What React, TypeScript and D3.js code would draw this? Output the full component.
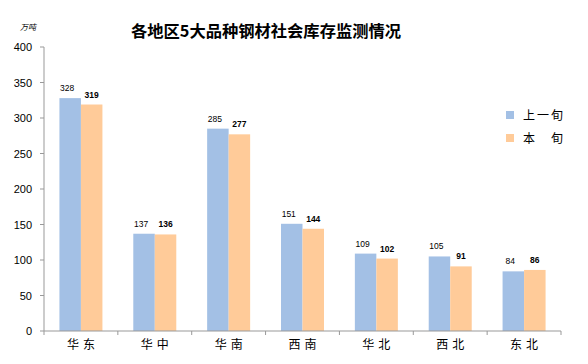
import React from "react";
import * as d3 from "d3";

const categories = ["华东", "华中", "华南", "西南", "华北", "西北", "东北"];
const prevValues = [328, 137, 285, 151, 109, 105, 84];
const currValues = [319, 136, 277, 144, 102, 91, 86];
const yTicks = [0, 50, 100, 150, 200, 250, 300, 350, 400];
const seriesNames = ["上一旬", "本　旬"];
const colors = ["#A3C0E5", "#FFCB99"];

export default function App() {
  const W = 588, H = 364;
  const left = 44, right = 561, top = 47, bottom = 331;
  const x = d3.scaleBand().domain(categories).range([left, right]).paddingInner(0).paddingOuter(0);
  const y = d3.scaleLinear().domain([0, 400]).range([bottom, top]);
  const bw = 21.5;
  const series = [prevValues, currValues];
  return (
    <svg width={W} height={H} style={{ position: "absolute", left: 0, top: 0 }} fontFamily="Liberation Sans, Arial, sans-serif">
      <rect width={W} height={H} fill="#fff" />
      <text x={266} y={36.5} textAnchor="middle" fontSize={16.3} fontWeight="bold" fontFamily="Noto Sans CJK SC" fill="#000">各地区5大品种钢材社会库存监测情况</text>
      <text x={20} y={30} fontSize={8} fontStyle="italic" fontFamily="Noto Sans CJK SC" fill="#000">万吨</text>
      {/* y axis */}
      <line x1={left} x2={left} y1={top} y2={bottom} stroke="#999" />
      {yTicks.map((t) => (
        <g key={t}>
          <line x1={left - 4} x2={left} y1={y(t)} y2={y(t)} stroke="#999" />
          <text x={left - 12} y={y(t) + 4} textAnchor="end" fontSize={11} fill="#000">{t}</text>
        </g>
      ))}
      {/* bars */}
      {categories.map((c, i) => {
        const cx = (x(c) as number) + x.bandwidth() / 2;
        return (
          <g key={c}>
            {series.map((s, k) => {
              const bx = cx - bw + k * bw;
              return (
                <g key={k}>
                  <rect x={bx} y={y(s[i])} width={bw} height={bottom - y(s[i])} fill={colors[k]} />
                  <text x={bx + bw / 2 - (k === 0 ? 3 : 0)} y={y(s[i]) - 7} textAnchor="middle" fontSize={8.5} fill="#000" fontWeight={k === 1 ? 600 : "normal"}>{s[i]}</text>
                </g>
              );
            })}
            <text x={cx} y={349} textAnchor="middle" fontSize={12} letterSpacing={4} dx={2} fontFamily="Noto Sans CJK SC" fill="#000">{c}</text>
          </g>
        );
      })}
      {/* x axis */}
      <line x1={left} x2={right} y1={bottom} y2={bottom} stroke="#999" />
      {categories.map((c) => (
        <line key={c} x1={(x(c) as number) + x.bandwidth()} x2={(x(c) as number) + x.bandwidth()} y1={bottom} y2={bottom + 4} stroke="#999" />
      ))}
      <line x1={left} x2={left} y1={bottom} y2={bottom + 4} stroke="#999" />
      {/* legend */}
      {seriesNames.map((n, k) => (
        <g key={n}>
          <rect x={506} y={111 + k * 23} width={8} height={8} fill={colors[k]} />
          <text x={523} y={119.5 + k * 23} fontSize={12} letterSpacing={2} fontFamily="Noto Sans CJK SC" fill="#000">{n}</text>
        </g>
      ))}
    </svg>
  );
}
